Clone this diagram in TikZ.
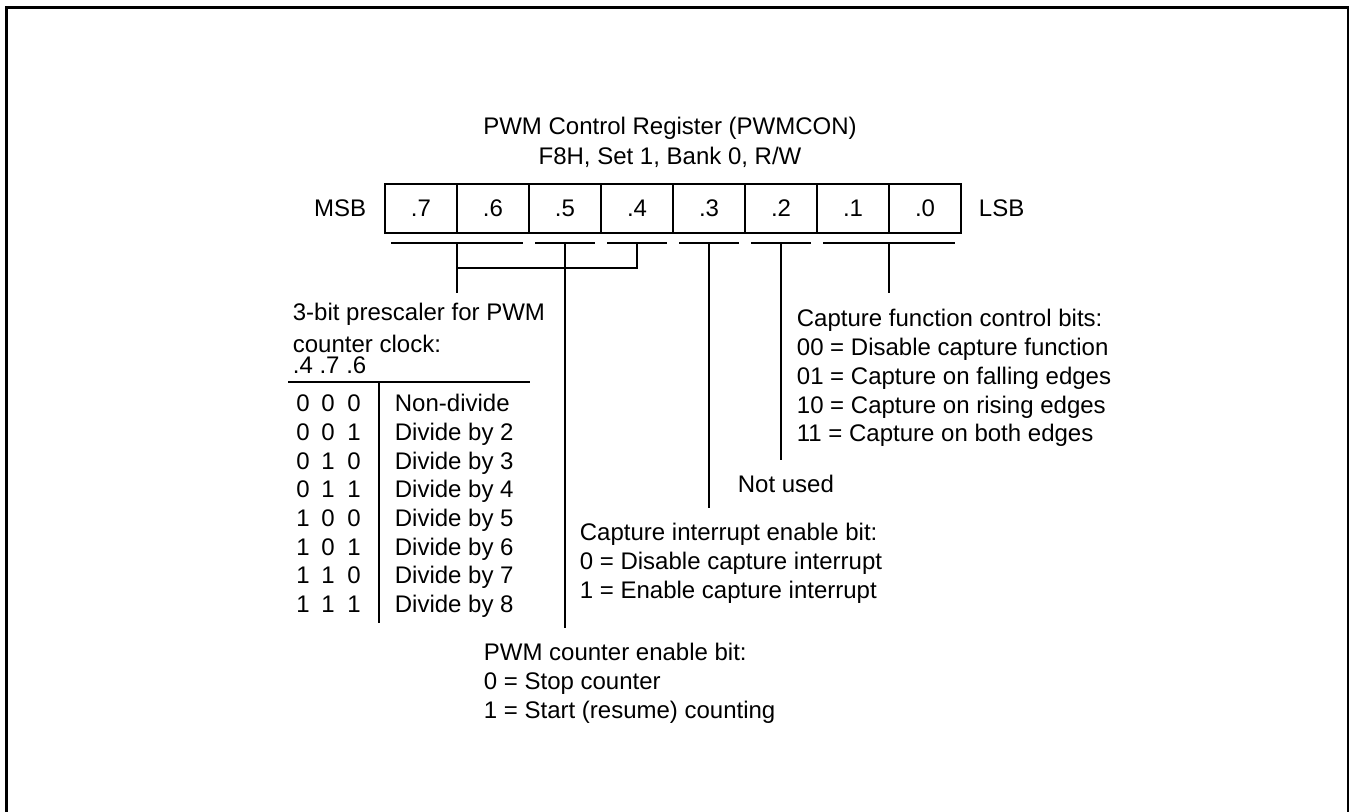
\documentclass[tikz,border=0pt]{standalone}
\usepackage{fontspec}
\setmainfont{Liberation Sans}
\usetikzlibrary{positioning}

\begin{document}
\begin{tikzpicture}[x=0.5pt,y=-0.5pt,line width=0.9pt,
  font=\fontsize{12}{14.4}\selectfont,
  bitcell/.style={draw,minimum width=36pt,minimum height=24.5pt,inner sep=0pt,outer sep=0pt},
  lbl/.style={anchor=base west,align=left,inner sep=0pt}]
  \useasboundingbox (0,0) rectangle (1349,812);
  \clip (0,0) rectangle (1349,812);
  \draw[line width=1.5pt] (6.5,830) -- (6.5,7.5) -- (1348.5,7.5) -- (1348.5,830);
  % multi-line nodes sit on the baseline of their last line
  \node[anchor=base,align=center,inner sep=0pt] (title) at (670,165)
    {PWM Control Register (PWMCON)\\[0.6pt]F8H, Set 1, Bank 0, R/W};
  \node[bitcell] (b7) at (421,208.5) {.7};
  \foreach \b [evaluate=\b as \p using int(\b+1)] in {6,...,0}
    \node[bitcell,right=0pt of b\p] (b\b) {.\b};
  \node[anchor=base east,inner sep=0pt] (msb) at (367,217) {MSB};
  \node[anchor=base west,inner sep=0pt] (lsb) at (978,217) {LSB};
  \draw ([shift={(6,10)}]b7.south west) -- ([shift={(-6,10)}]b6.south east);
  \foreach \b in {5,4,3,2}
    \draw ([shift={(6,10)}]b\b.south west) -- ([shift={(-6,10)}]b\b.south east);
  \draw ([shift={(6,10)}]b1.south west) -- ([shift={(-6,10)}]b0.south east);
  \coordinate (t76) at ([yshift=-5pt]b7.south east);
  \coordinate (t5) at ([yshift=-5pt]b5.south);
  \coordinate (t4) at ([yshift=-5pt]b4.south);
  \coordinate (t3) at ([yshift=-5pt]b3.south);
  \coordinate (t2) at ([yshift=-5pt]b2.south);
  \coordinate (t10) at ([yshift=-5pt]b1.south east);
  \coordinate (e76) at (457,293);
  \coordinate (k76) at (457,268);
  \coordinate (e5) at (565,628);
  \coordinate (e3) at (709,508);
  \coordinate (e2) at (781,460);
  \coordinate (e10) at (889,293);
  \draw (t76) -- (e76);
  \draw (t4) |- (k76);
  \draw (t5) -- (e5);
  \draw (t3) -- (e3);
  \draw (t2) -- (e2);
  \draw (t10) -- (e10);
  \node[lbl] (presc) at (292,353) {3-bit prescaler for PWM\\[1.6pt]counter clock:};
  \node[lbl] (order) at (292,374) {.4 .7 .6};
  \coordinate (hl) at (288,382);
  \coordinate (hr) at (530,382);
  \coordinate (vt) at (379,382);
  \coordinate (vb) at (379,623);
  \draw (hl) -- (hr);
  \draw (vt) -- (vb);
  \foreach \u/\v/\w/\txt [count=\i from 0] in
    {0/0/0/Non-divide,0/0/1/Divide by 2,0/1/0/Divide by 3,0/1/1/Divide by 4,
     1/0/0/Divide by 5,1/0/1/Divide by 6,1/1/0/Divide by 7,1/1/1/Divide by 8}{
    \node[anchor=base,inner sep=0pt] (ra\i) at (303,{412+28.6*\i}) {\u};
    \node[anchor=base,inner sep=0pt] (rb\i) at (328,{412+28.6*\i}) {\v};
    \node[anchor=base,inner sep=0pt] (rc\i) at (354,{412+28.6*\i}) {\w};
    \node[lbl] (rt\i) at (394,{412+28.6*\i}) {\txt};
  }
  \node[lbl] (capfn) at (796,442) {Capture function control bits:\\
    00 = Disable capture function\\01 = Capture on falling edges\\
    10 = Capture on rising edges\\11 = Capture on both edges};
  \node[lbl] (unused) at (737,492) {Not used};
  \node[lbl] (capint) at (579,598) {Capture interrupt enable bit:\\
    0 = Disable capture interrupt\\1 = Enable capture interrupt};
  \node[lbl] (cnten) at (483,718) {PWM counter enable bit:\\
    0 = Stop counter\\1 = Start (resume) counting};
\end{tikzpicture}
\end{document}
